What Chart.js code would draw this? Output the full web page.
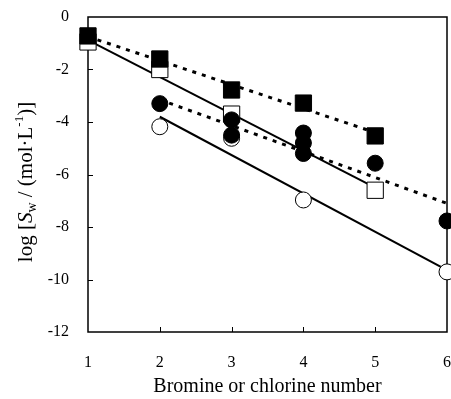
<!DOCTYPE html>
<html>
<head>
<meta charset="utf-8">
<script src="https://cdn.jsdelivr.net/npm/chart.js@4/dist/chart.umd.min.js"></script>
<style>
  html, body { margin: 0; padding: 0; background: #fff; }
  #wrap { width: 451px; height: 399px; }
</style>
</head>
<body>
<div id="wrap"><canvas id="chart" width="451" height="399"></canvas></div>
<script>
// tick labels
const xTicks = [1, 2, 3, 4, 5, 6];
const yTicks = [0, -2, -4, -6, -8, -10, -12];

// filled squares
const filledSqX = [1, 2, 3, 4, 5];
const filledSqY = [-0.72, -1.6, -2.78, -3.28, -4.53];
// open squares
const openSqX = [1, 2, 3, 5];
const openSqY = [-0.95, -2.0, -3.7, -6.6];
// filled circles
const filledCircX = [2, 3, 3, 4, 4, 4, 5, 6];
const filledCircY = [-3.3, -3.92, -4.5, -4.42, -4.8, -5.2, -5.57, -7.77];
// open circles
const openCircX = [2, 3, 4, 6];
const openCircY = [-4.18, -4.62, -6.97, -9.71];

// fitted lines (end points)
const filledSqFitX = [1, 5];
const filledSqFitY = [-0.75, -4.4];
const openSqFitX = [1, 5];
const openSqFitY = [-0.88, -6.5];
const filledCircFitX = [2, 6];
const filledCircFitY = [-3.15, -7.1];
const openCircFitX = [2, 6];
const openCircFitY = [-3.8, -9.64];

function pts(xs, ys) {
  return xs.map((x, i) => ({ x: x, y: ys[i] }));
}

const serif = "'Liberation Serif', 'Times New Roman', serif";

function marker(xs, ys, style, filled, r, order) {
  return {
    type: 'scatter',
    data: pts(xs, ys),
    pointStyle: style,
    pointRadius: r,
    pointHoverRadius: r,
    pointBackgroundColor: filled ? '#000' : '#fff',
    pointBorderColor: '#000',
    pointBorderWidth: 1,
    showLine: false,
    clip: false,
    order: order
  };
}

function fitLine(xs, ys, dotted, order) {
  return {
    type: 'line',
    data: pts(xs, ys),
    borderColor: '#000',
    borderWidth: dotted ? 3 : 2,
    borderDash: dotted ? [4, 6] : [],
    pointRadius: 0,
    fill: false,
    showLine: true,
    clip: false,
    order: order
  };
}

function noPad(s) {
  s.paddingLeft = 0;
  s.paddingRight = 0;
  s.paddingTop = 0;
  s.paddingBottom = 0;
}

// frame + inward ticks + titles
const framePlugin = {
  id: 'frame',
  beforeDatasetsDraw(chart) {
    const ctx = chart.ctx;
    const a = chart.chartArea;
    const xs = chart.scales.x, ys = chart.scales.y;
    ctx.save();
    ctx.strokeStyle = '#000';
    ctx.lineWidth = 1.5;
    ctx.strokeRect(a.left, a.top, a.right - a.left, a.bottom - a.top);
    ctx.lineWidth = 1;
    ctx.beginPath();
    xTicks.slice(1, -1).forEach(v => {
      const px = Math.round(xs.getPixelForValue(v)) + 0.5;
      ctx.moveTo(px, a.bottom);
      ctx.lineTo(px, a.bottom - 5);
    });
    yTicks.slice(1, -1).forEach(v => {
      const py = Math.round(ys.getPixelForValue(v)) + 0.5;
      ctx.moveTo(a.left, py);
      ctx.lineTo(a.left + 5, py);
    });
    ctx.stroke();
    ctx.restore();
  },
  afterDraw(chart) {
    const ctx = chart.ctx;
    const a = chart.chartArea;
    ctx.save();
    ctx.fillStyle = '#000';
    // x title
    ctx.font = '20px ' + serif;
    ctx.textAlign = 'center';
    ctx.textBaseline = 'alphabetic';
    ctx.fillText('Bromine or chlorine number', (a.left + a.right) / 2, 392);

    // y title with italic S, subscript w, superscript -1
    const segs = [
      { t: 'log [', f: '21px ' + serif, dy: 0 },
      { t: 'S', f: 'italic 21px ' + serif, dy: 0 },
      { t: 'w', f: '14px ' + serif, dy: 4 },
      { t: ' / (mol\u00b7L', f: '21px ' + serif, dy: 0 },
      { t: '-1', f: '13px ' + serif, dy: -9 },
      { t: ')]', f: '21px ' + serif, dy: 0 }
    ];
    let total = 0;
    segs.forEach(s => { ctx.font = s.f; s.w = ctx.measureText(s.t).width; total += s.w; });
    ctx.translate(32, 182);
    ctx.rotate(-Math.PI / 2);
    ctx.textAlign = 'left';
    let cx = -total / 2;
    segs.forEach(s => {
      ctx.font = s.f;
      ctx.fillText(s.t, cx, s.dy);
      cx += s.w;
    });
    ctx.restore();
  }
};

new Chart(document.getElementById('chart'), {
  type: 'scatter',
  data: {
    datasets: [
      marker(filledSqX, filledSqY, 'rect', true, 11.5, 0),
      marker(filledCircX, filledCircY, 'circle', true, 8, 1),
      marker(openSqX, openSqY, 'rect', false, 11.5, 2),
      marker(openCircX, openCircY, 'circle', false, 8, 3),
      fitLine(filledSqFitX, filledSqFitY, true, 4),
      fitLine(openSqFitX, openSqFitY, false, 5),
      fitLine(filledCircFitX, filledCircFitY, true, 6),
      fitLine(openCircFitX, openCircFitY, false, 7)
    ]
  },
  options: {
    responsive: false,
    animation: false,
    layout: { autoPadding: false, padding: { left: 0, right: 4, top: 17, bottom: 0 } },
    plugins: {
      legend: { display: false },
      tooltip: { enabled: false }
    },
    scales: {
      x: {
        type: 'linear',
        min: 1,
        max: 6,
        afterBuildTicks: s => { s.ticks = xTicks.map(v => ({ value: v })); },
        afterFit: s => {
          s.height = 67;
          noPad(s);
        },
        grid: { display: false },
        border: { display: false },
        ticks: {
          color: '#000',
          padding: 13,
          font: { family: serif, size: 16 }
        }
      },
      y: {
        type: 'linear',
        min: -12,
        max: 0,
        afterBuildTicks: s => { s.ticks = yTicks.map(v => ({ value: v })); },
        afterFit: s => {
          s.width = 88;
          noPad(s);
        },
        grid: { display: false },
        border: { display: false },
        ticks: {
          color: '#000',
          padding: 11,
          font: { family: serif, size: 16 }
        }
      }
    }
  },
  plugins: [framePlugin]
});
</script>
</body>
</html>
